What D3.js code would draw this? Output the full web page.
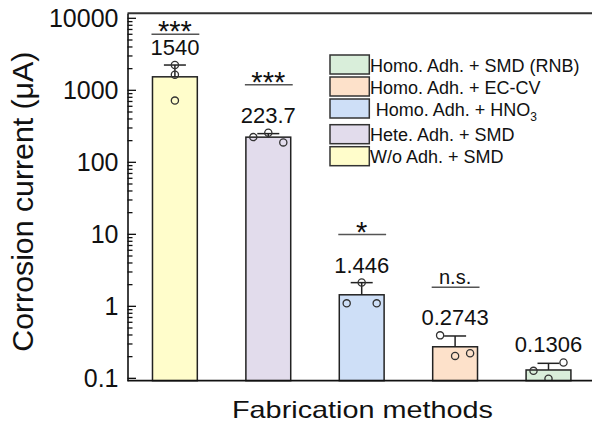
<!DOCTYPE html>
<html>
<head>
<meta charset="utf-8">
<script src="https://cdn.jsdelivr.net/npm/d3@7"></script>
<style>
  html, body { margin: 0; padding: 0; background: #fff; }
  svg { display: block; font-family: "Liberation Sans", Arial, sans-serif; }
</style>
</head>
<body>
<svg id="chart" width="592" height="423"></svg>
<script>
// ---- data ----
const categories = ["W/o Adh. + SMD", "Hete. Adh. + SMD", "Homo. Adh. + HNO3", "Homo. Adh. + EC-CV", "Homo. Adh. + SMD (RNB)"];
const means = [1540, 223.7, 1.446, 0.2743, 0.1306];
const meanLabels = ["1540", "223.7", "1.446", "0.2743", "0.1306"];
const upperErrors = [705, 26.7, 0.687, 0.113, 0.031];
const points = [
  [2250, 1650, 720],
  [224, 258, 189],
  [1.10, 2.14, 1.10],
  [0.395, 0.205, 0.223],
  [0.127, 0.099, 0.166]
];
const pointSlots = [[0, 0, 0], [-1, 0, 1], [-1, 0, 1], [-1, 0, 1], [-1, 0, 1]];
const significance = ["***", "***", "*", "n.s.", null];
const colors = ["#FFFDCB", "#E2DCEC", "#CEDFF7", "#FDE1CA", "#D9EEDA"];
const yTickValues = [0.1, 1, 10, 100, 1000, 10000];
const yTickLabels = ["0.1", "1", "10", "100", "1000", "10000"];
const yDomain = [0.0927, 11740];
const legendOrder = [4, 3, 2, 1, 0];

// ---- layout ----
const svg = d3.select("#chart");
const pL = 127.5, pT = 13.3, pB = 380.7, pR = 595.2;

const x = d3.scaleBand().domain(categories).range([128.2, pR]).paddingInner(0.52).paddingOuter(0.26);
const y = d3.scaleLog().domain(yDomain).range([pB, pT]);

svg.append("defs").append("clipPath").attr("id", "plotclip")
  .append("rect").attr("x", pL).attr("y", pT).attr("width", 592 - pL).attr("height", pB - pT);

const stroke = "#222";

// bars
svg.append("g").selectAll("rect").data(categories).join("rect")
  .attr("x", d => x(d))
  .attr("y", (d, i) => y(means[i]))
  .attr("width", x.bandwidth())
  .attr("height", (d, i) => pB - y(means[i]))
  .attr("fill", (d, i) => colors[i])
  .attr("stroke", stroke).attr("stroke-width", 1.5);

// error bars (upper only)
const eg = svg.append("g").attr("stroke", stroke).attr("stroke-width", 1.5).attr("fill", "none");
categories.forEach((c, i) => {
  const cx = x(c) + x.bandwidth() / 2;
  const yt = y(means[i] + upperErrors[i]);
  eg.append("line").attr("x1", cx).attr("x2", cx).attr("y1", y(means[i])).attr("y2", yt);
  eg.append("line").attr("x1", cx - 11).attr("x2", cx + 11).attr("y1", yt).attr("y2", yt);
});

// points
const pg = svg.append("g").attr("clip-path", "url(#plotclip)");
categories.forEach((c, i) => {
  const cx = x(c) + x.bandwidth() / 2;
  pg.selectAll(null).data(points[i]).join("circle")
    .attr("cx", (d, j) => cx + pointSlots[i][j] * 15)
    .attr("cy", d => y(d))
    .attr("r", 3.6)
    .attr("fill", "none")
    .attr("stroke", "#333").attr("stroke-width", 1.3);
});

// value labels and significance
categories.forEach((c, i) => {
  const cx = x(c) + x.bandwidth() / 2;
  const topVal = Math.max(means[i] + upperErrors[i], d3.max(points[i]));
  const base = y(topVal) - 10;
  svg.append("text").attr("x", cx).attr("y", base)
    .attr("text-anchor", "middle").attr("font-size", 22).attr("fill", "#111")
    .text(meanLabels[i]);
  if (significance[i]) {
    const ly = Math.max(34.3, base - 38);
    svg.append("line").attr("x1", x(c) - 1).attr("x2", x(c) + x.bandwidth() + 2)
      .attr("y1", ly).attr("y2", ly).attr("stroke", "#555").attr("stroke-width", 1.5);
    const isStar = significance[i].indexOf("*") >= 0;
    svg.append("text").attr("x", cx).attr("y", isStar ? ly + 7 : ly - 3.3)
      .attr("text-anchor", "middle").attr("font-size", isStar ? 29 : 20).attr("fill", "#111")
      .text(significance[i]);
  }
});

// axes frame
svg.append("line").attr("x1", pL).attr("x2", 592).attr("y1", pT).attr("y2", pT)
  .attr("stroke", "#333").attr("stroke-width", 2);
svg.append("line").attr("x1", pL).attr("x2", 592).attr("y1", pB).attr("y2", pB)
  .attr("stroke", "#111").attr("stroke-width", 1.8);

// y axis
const yAxis = d3.axisLeft(y).tickValues(yTickValues).tickFormat((d, i) => yTickLabels[i]).tickSize(0).tickPadding(9);
const ya = svg.append("g").attr("transform", `translate(${pL},0)`).call(yAxis);
ya.select(".domain").attr("stroke", "#111").attr("stroke-width", 1.6);
ya.selectAll(".tick text").attr("font-size", 25).attr("fill", "#111").attr("font-family", "Liberation Sans, Arial, sans-serif");

// inward ticks (major + minor)
const tg = svg.append("g").attr("stroke", "#111").attr("stroke-width", 1.3);
const allTicks = [];
for (let e = -1; e <= 4; e++) {
  for (let m = 1; m <= 9; m++) {
    const v = m * Math.pow(10, e);
    if (v >= yDomain[0] && v <= yDomain[1]) allTicks.push({ v, major: m === 1 });
  }
}
tg.selectAll("line").data(allTicks).join("line")
  .attr("x1", pL).attr("x2", d => pL + (d.major ? 8.5 : 5))
  .attr("y1", d => y(d.v)).attr("y2", d => y(d.v));

// axis titles
svg.append("text")
  .attr("transform", `translate(33,201.7) rotate(-90)`)
  .attr("text-anchor", "middle").attr("font-size", 29).attr("fill", "#111")
  .attr("textLength", 300).attr("lengthAdjust", "spacingAndGlyphs")
  .text("Corrosion current (μA)");
svg.append("text")
  .attr("x", 362.5).attr("y", 417.7)
  .attr("text-anchor", "middle").attr("font-size", 24).attr("fill", "#111")
  .attr("textLength", 261).attr("lengthAdjust", "spacingAndGlyphs")
  .text("Fabrication methods");

// legend
const lg = svg.append("g");
legendOrder.forEach((ci, r) => {
  const ty = 55 + r * 22 + (r >= 3 ? 3.7 : 0);
  lg.append("rect").attr("x", 330).attr("y", ty).attr("width", 39.3).attr("height", 19)
    .attr("fill", colors[ci]).attr("stroke", "#333").attr("stroke-width", 1.5);
  const name = categories[ci];
  const t = lg.append("text").attr("x", name.endsWith("HNO3") ? 375.7 : 370).attr("y", ty + 16.5)
    .attr("font-size", 18).attr("fill", "#111");
  if (name.endsWith("HNO3")) {
    t.append("tspan").text(name.slice(0, -1));
    t.append("tspan").attr("font-size", 12).attr("dy", 5).text("3");
  } else {
    t.text(name);
  }
});
</script>
</body>
</html>
